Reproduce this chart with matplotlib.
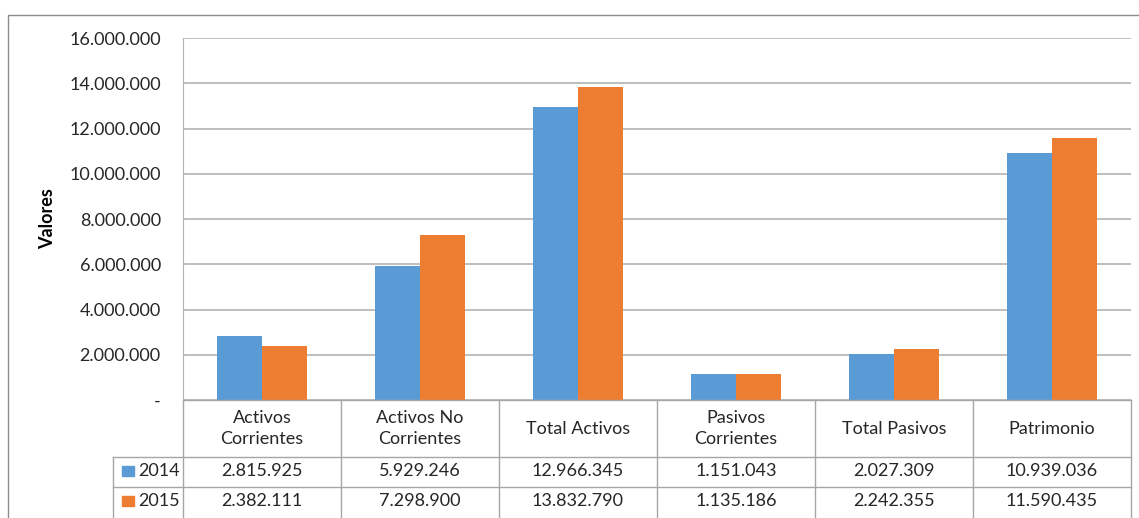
import matplotlib.pyplot as plt
from matplotlib.patches import Rectangle
from matplotlib.ticker import FuncFormatter

plt.rcParams['font.family'] = ['Lato', 'DejaVu Sans']

categories = ["Activos\nCorrientes", "Activos No\nCorrientes", "Total Activos",
              "Pasivos\nCorrientes", "Total Pasivos", "Patrimonio"]
series = ["2014", "2015"]
v2014 = [2815925, 5929246, 12966345, 1151043, 2027309, 10939036]
v2015 = [2382111, 7298900, 13832790, 1135186, 2242355, 11590435]
colors = ["#5B9BD5", "#ED7D31"]

W, H = 1139, 518
txt = "#262626"
grid = "#B3B3B3"
fs = 13


def fmt(v):
    return "{:,}".format(int(v)).replace(",", ".")


fig = plt.figure(figsize=(W / 100, H / 100), dpi=100)
fig.patches.append(Rectangle((8 / W, -0.01), 1.02, 1 - 15 / H + 0.01,
                             transform=fig.transFigure, fill=False,
                             edgecolor="#8C8C8C", lw=1))

ax = fig.add_axes([183 / W, 118 / H, 948 / W, 362 / H])
x = list(range(len(categories)))
bw = 0.285
ax.bar([i - bw / 2 for i in x], v2014, bw, color=colors[0], zorder=3)
ax.bar([i + bw / 2 for i in x], v2015, bw, color=colors[1], zorder=3)
ax.set_xlim(-0.5, len(categories) - 0.5)
ax.set_ylim(0, 16000000)
ax.set_yticks(range(0, 16000001, 2000000))
ax.yaxis.set_major_formatter(FuncFormatter(lambda v, p: fmt(v) if v > 0 else "-"))
ax.tick_params(axis="y", length=0, pad=16, labelsize=fs, labelcolor=txt)
ax.tick_params(axis="x", length=0, labelbottom=False)
ax.grid(axis="y", color=grid, lw=1.2, zorder=0)
for s in ["top", "right", "bottom"]:
    ax.spines[s].set_visible(False)
ax.spines["left"].set_color(grid)
ax.set_ylabel("Valores", fontsize=fs, fontweight="bold", color="black")
ax.yaxis.set_label_coords((56 - 183) / 948, 0.5)

# data table under the plot
tb = fig.add_axes([183 / W, 0, 948 / W, 118 / H])
tb.set_xlim(-0.5, len(categories) - 0.5)
tb.set_ylim(0, 118)
tb.axis("off")
lc = "#A6A6A6"
left = -0.5 - 70 / 158
rows = [61, 31, 0]
for b in range(len(categories) + 1):
    tb.plot([b - 0.5, b - 0.5], [118, -5], color=lc, lw=1, clip_on=False)
tb.plot([-0.5, len(categories) - 0.5], [118, 118], color=lc, lw=1, clip_on=False)
for y in rows[:2]:
    tb.plot([left, len(categories) - 0.5], [y, y], color=lc, lw=1, clip_on=False)
tb.plot([left, left], [61, -5], color=lc, lw=1, clip_on=False)
for i, c in enumerate(categories):
    tb.text(i, 89.5, c, ha="center", va="center", fontsize=fs, color=txt,
            linespacing=1.45)
for r, (name, vals, col) in enumerate(zip(series, [v2014, v2015], colors)):
    yc = (rows[r] + rows[r + 1]) / 2 + (1 if r == 0 else 1.5)
    tb.add_patch(Rectangle((left + 0.06, yc - 5), 0.07, 10, color=col, clip_on=False))
    tb.text(left + 0.16, yc, name, ha="left", va="center", fontsize=fs, color=txt)
    for i, v in enumerate(vals):
        tb.text(i, yc, fmt(v), ha="center", va="center", fontsize=fs, color=txt)

fig.savefig("out.png", dpi=100)
